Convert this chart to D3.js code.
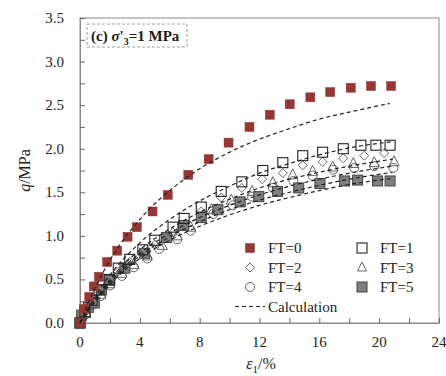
<!DOCTYPE html>
<html>
<head>
<meta charset="utf-8">
<script src="https://cdn.jsdelivr.net/npm/d3@7/dist/d3.min.js"></script>
<style>
  html, body { margin: 0; padding: 0; background: #fff; }
</style>
</head>
<body>
<svg id="chart" width="446" height="376"></svg>
<script>
// Axial strain ε1 (%) and deviator stress q (MPa) for each freeze–thaw count
const ft0Strain = [0, 0.27, 0.62, 0.93, 1.27, 1.82, 2.49, 3.18, 3.8, 4.85, 5.87, 7.24, 8.6, 9.93, 11.33, 12.69, 14.02, 15.4, 16.73, 18.1, 19.45, 20.8];
const ft0Q      = [0, 0.16, 0.30, 0.42, 0.53, 0.70, 0.83, 0.99, 1.10, 1.28, 1.47, 1.70, 1.88, 2.07, 2.25, 2.39, 2.51, 2.59, 2.65, 2.70, 2.72, 2.72];

const ft1Strain = [0, 0.33, 0.82, 1.27, 1.95, 2.56, 3.33, 4.2, 5.0, 6.22, 6.96, 8.11, 9.44, 10.82, 12.22, 13.56, 14.89, 16.22, 17.6, 18.78, 19.78, 20.73];
const ft1Q      = [0, 0.13, 0.26, 0.38, 0.50, 0.63, 0.73, 0.84, 0.95, 1.10, 1.20, 1.33, 1.51, 1.62, 1.75, 1.84, 1.92, 1.96, 2.00, 2.04, 2.04, 2.04];

const ft2Strain = [0, 0.33, 0.82, 1.27, 1.95, 2.56, 3.33, 4.2, 5.0, 6.22, 6.96, 8.11, 9.44, 10.82, 12.18, 13.56, 14.89, 16.22, 17.6, 19.0, 20.33];
const ft2Q      = [0, 0.12, 0.25, 0.36, 0.48, 0.59, 0.70, 0.80, 0.90, 1.04, 1.12, 1.28, 1.44, 1.55, 1.65, 1.72, 1.81, 1.85, 1.89, 1.92, 1.95];

const ft3Strain = [0, 0.4, 0.9, 1.4, 2.0, 2.8, 3.6, 4.5, 5.5, 6.5, 7.4, 8.78, 10.11, 11.51, 12.89, 14.22, 15.55, 16.89, 18.27, 19.67, 21.0];
const ft3Q      = [0, 0.11, 0.23, 0.33, 0.45, 0.57, 0.67, 0.77, 0.89, 1.00, 1.10, 1.30, 1.41, 1.51, 1.61, 1.70, 1.74, 1.79, 1.83, 1.84, 1.85];

const ft4Strain = [0, 0.4, 0.9, 1.4, 2.0, 2.8, 3.6, 4.5, 5.3, 6.5, 7.4, 8.9, 10.22, 11.51, 12.89, 14.27, 15.55, 16.93, 18.33, 19.67, 20.95];
const ft4Q      = [0, 0.10, 0.21, 0.31, 0.43, 0.54, 0.64, 0.74, 0.85, 0.96, 1.06, 1.25, 1.35, 1.45, 1.55, 1.63, 1.69, 1.76, 1.78, 1.80, 1.78];

const ft5Strain = [0, 0.11, 0.56, 0.96, 1.44, 2.0, 3.0, 4.33, 5.78, 6.93, 8.11, 9.22, 10.71, 11.95, 13.2, 14.62, 16.04, 17.69, 18.56, 19.89, 20.73];
const ft5Q      = [0, 0.09, 0.18, 0.23, 0.38, 0.49, 0.63, 0.80, 0.98, 1.12, 1.21, 1.30, 1.39, 1.45, 1.51, 1.55, 1.60, 1.63, 1.64, 1.63, 1.63];

// Model (calculation) curves
const calc0Strain = [0, 0.5, 1, 2, 4, 6, 8, 10, 12, 14, 16, 18, 20.7];
const calc0Q      = [0, 0.21, 0.40, 0.72, 1.19, 1.52, 1.77, 1.96, 2.11, 2.23, 2.34, 2.42, 2.52];
const calcStrain  = [0, 0.5, 1, 2, 4, 6, 8, 10, 12, 14, 16, 18, 20.9];
const calc1Q = [0, 0.16, 0.30, 0.55, 0.92, 1.19, 1.40, 1.57, 1.72, 1.83, 1.93, 2.01, 2.08];
const calc2Q = [0, 0.14, 0.27, 0.50, 0.84, 1.08, 1.27, 1.42, 1.55, 1.65, 1.73, 1.80, 1.88];
const calc3Q = [0, 0.14, 0.26, 0.48, 0.80, 1.03, 1.21, 1.35, 1.47, 1.57, 1.65, 1.72, 1.80];
const calc4Q = [0, 0.13, 0.25, 0.46, 0.77, 0.99, 1.16, 1.30, 1.41, 1.50, 1.58, 1.65, 1.73];
const calc5Q = [0, 0.13, 0.24, 0.44, 0.74, 0.95, 1.11, 1.24, 1.35, 1.44, 1.52, 1.59, 1.66];

const xTicks = [0, 4, 8, 12, 16, 20, 24];
const yTicks = [0, 0.5, 1.0, 1.5, 2.0, 2.5, 3.0, 3.5];
const legendLabels = ["FT=0", "FT=1", "FT=2", "FT=3", "FT=4", "FT=5"];

const serif = "Times New Roman, Liberation Serif, Tinos, DejaVu Serif, serif";
const svg = d3.select("#chart").style("font-family", serif);
const plotL = 80, plotR = 439, plotT = 18, plotB = 323;

const x = d3.scaleLinear().domain([0, 24]).range([plotL, plotR]);
const y = d3.scaleLinear().domain([0, 3.5]).range([plotB, plotT]);

const ink = "#1a1a1a";
const frameColor = "#8a8a8a";

// Plot frame
svg.append("rect")
  .attr("x", plotL).attr("y", plotT)
  .attr("width", plotR - plotL).attr("height", plotB - plotT)
  .attr("fill", "none").attr("stroke", frameColor).attr("stroke-width", 1);

// Inward ticks
const xAxis = d3.axisBottom(x).tickValues(d3.range(0, 25, 2)).tickSizeInner(-5).tickSizeOuter(0).tickFormat("");
const gx = svg.append("g").attr("transform", `translate(0,${plotB})`).call(xAxis);
gx.select(".domain").attr("stroke", frameColor);
gx.selectAll(".tick line").attr("stroke", "#666");

const yAxis = d3.axisLeft(y).tickValues(d3.range(0, 3.51, 0.25)).tickSizeInner(-5).tickSizeOuter(0).tickFormat("");
const gy = svg.append("g").attr("transform", `translate(${plotL},0)`).call(yAxis);
gy.select(".domain").attr("stroke", frameColor);
gy.selectAll(".tick line").attr("stroke", "#666");

// Tick labels
svg.append("g").selectAll("text").data(xTicks).join("text")
  .attr("x", d => x(d)).attr("y", 347)
  .attr("text-anchor", "middle").style("font-family", serif)
  .attr("font-size", 15).attr("fill", "#222")
  .text(d => d);

svg.append("g").selectAll("text").data(yTicks).join("text")
  .attr("x", 64).attr("y", d => y(d) + 5)
  .attr("text-anchor", "end").style("font-family", serif)
  .attr("font-size", 15).attr("fill", "#222")
  .text(d => d.toFixed(1));

// Axis titles
const xt = svg.append("text").attr("x", 261).attr("y", 369)
  .attr("text-anchor", "middle").style("font-family", serif)
  .attr("font-size", 16).attr("fill", "#222");
xt.append("tspan").attr("font-style", "italic").text("ε");
xt.append("tspan").attr("font-size", 11).attr("dy", 4).text("1");
xt.append("tspan").attr("dy", -4).text("/%");

const yt = svg.append("text").attr("transform", `translate(30,${(plotT + plotB) / 2}) rotate(-90)`)
  .attr("text-anchor", "middle").style("font-family", serif)
  .attr("font-size", 16).attr("fill", "#222");
yt.append("tspan").attr("font-style", "italic").text("q");
yt.append("tspan").text("/MPa");

// Panel caption
svg.append("rect").attr("x", 87).attr("y", 24).attr("width", 100).attr("height", 23)
  .attr("fill", "#fff").attr("stroke", "#a0a0a0").attr("stroke-dasharray", "3,2").attr("stroke-width", 1);
const cap = svg.append("text").attr("x", 91).attr("y", 41).style("font-family", serif)
  .attr("font-size", 15).attr("font-weight", "bold").attr("fill", ink);
cap.append("tspan").text("(c) ");
cap.append("tspan").attr("font-style", "italic").text("σ");
cap.append("tspan").text("'");
cap.append("tspan").attr("font-size", 10).attr("dy", 4).text("3");
cap.append("tspan").attr("dy", -4).text("=1 MPa");

// Marker styles
const red = "#953735";
const grey = "#7f7f7f";
const styles = [
  { shape: "square", size: 9, fill: red, stroke: red, sw: 0.5 },
  { shape: "square", size: 10, fill: "none", stroke: "#222", sw: 1.1 },
  { shape: "diamond", size: 9, fill: "none", stroke: "#555", sw: 0.9 },
  { shape: "triangle", size: 10, fill: "none", stroke: "#555", sw: 0.9 },
  { shape: "circle", size: 9, fill: "none", stroke: "#555", sw: 0.9 },
  { shape: "square", size: 10, fill: grey, stroke: "#444", sw: 1 }
];

function drawMarker(g, cx, cy, st) {
  const s = st.size, h = s / 2;
  let el;
  if (st.shape === "square") {
    el = g.append("rect").attr("x", cx - h).attr("y", cy - h).attr("width", s).attr("height", s);
  } else if (st.shape === "diamond") {
    el = g.append("path").attr("d", `M${cx},${cy - h}L${cx + h},${cy}L${cx},${cy + h}L${cx - h},${cy}Z`);
  } else if (st.shape === "triangle") {
    el = g.append("path").attr("d", `M${cx},${cy - h - 1}L${cx + h},${cy + h - 1}L${cx - h},${cy + h - 1}Z`);
  } else {
    el = g.append("circle").attr("cx", cx).attr("cy", cy).attr("r", h);
  }
  el.attr("fill", st.fill).attr("stroke", st.stroke).attr("stroke-width", st.sw);
}

const series = [
  [ft0Strain, ft0Q], [ft1Strain, ft1Q], [ft2Strain, ft2Q],
  [ft3Strain, ft3Q], [ft4Strain, ft4Q], [ft5Strain, ft5Q]
];

const marks = svg.append("g");
// lighter open markers first, squares on top
[4, 3, 2, 5, 1, 0].forEach(i => {
  const [xs, qs] = series[i];
  const g = marks.append("g");
  xs.forEach((e, k) => drawMarker(g, x(e), y(qs[k]), styles[i]));
});

// Calculation curves
const line = d3.line().x(d => x(d[0])).y(d => y(d[1])).curve(d3.curveMonotoneX);
const curves = [
  d3.zip(calc0Strain, calc0Q),
  d3.zip(calcStrain, calc1Q),
  d3.zip(calcStrain, calc2Q),
  d3.zip(calcStrain, calc3Q),
  d3.zip(calcStrain, calc4Q),
  d3.zip(calcStrain, calc5Q)
];
svg.append("g").selectAll("path").data(curves).join("path")
  .attr("d", line)
  .attr("fill", "none").attr("stroke", "#222")
  .attr("stroke-width", 1.2).attr("stroke-dasharray", "4,3");

// Legend
const legend = svg.append("g");
const legendRows = [248, 267.5, 287];
legendLabels.forEach((lab, i) => {
  const col = i % 2, row = Math.floor(i / 2);
  const mx = col === 0 ? 250 : 362;
  const my = legendRows[row];
  const st = Object.assign({}, styles[i]);
  if (st.shape !== "square") st.size = 9;
  drawMarker(legend, mx, my, st);
  legend.append("text").attr("x", mx + 18).attr("y", my + 5).style("font-family", serif)
    .attr("font-size", 15).attr("fill", "#222").text(lab);
});
legend.append("line").attr("x1", 235).attr("x2", 265).attr("y1", 306.5).attr("y2", 306.5)
  .attr("stroke", "#222").attr("stroke-width", 1.2).attr("stroke-dasharray", "4,3");
legend.append("text").attr("x", 268).attr("y", 311.5).style("font-family", serif)
  .attr("font-size", 15).attr("fill", "#222").text("Calculation");
</script>
</body>
</html>
